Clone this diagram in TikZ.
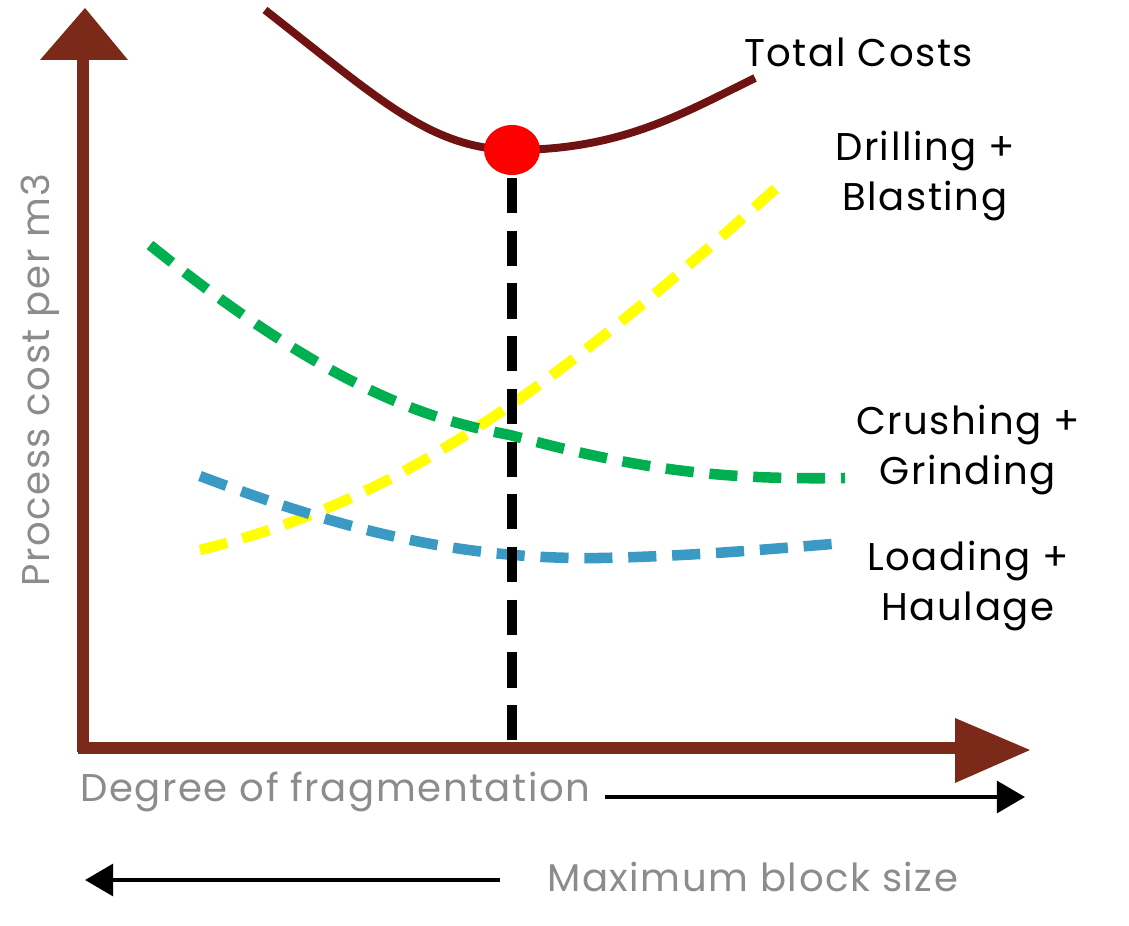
\documentclass[tikz,border=0pt]{standalone}
\usepackage{fontspec}
\setmainfont{Poppins}[LetterSpace=4]
\usetikzlibrary{arrows.meta}
\definecolor{axbrown}{HTML}{7B2A1A}
\definecolor{totred}{HTML}{6E1212}
\definecolor{lgray}{HTML}{8C8C8C}
\definecolor{cyel}{HTML}{FFFF00}
\definecolor{cgrn}{HTML}{00B050}
\definecolor{cblu}{HTML}{3A9AC4}
\begin{document}
\begin{tikzpicture}[x=0.02cm,y=-0.02cm,
  lbl/.style={font=\fontsize{22}{28}\selectfont, align=center, text=black},
  glbl/.style={font=\fontsize{22}{26}\selectfont, text=lgray},
  dsh/.style={line width=6pt, dash pattern=on 16pt off 9pt},
  thinarrow/.style={line width=2.5pt,-{Triangle[length=16pt,width=18pt]}}]
\useasboundingbox (0,0) rectangle (1129,926);
% axes
\coordinate (o) at (83,748);
\coordinate (ytop) at (83,58);
\coordinate (xend) at (958,748);
\draw[axbrown, line width=7pt] (83,752) -- (ytop);
\draw[axbrown, line width=7pt] (78,748) -- (xend);
\fill[axbrown] (40,60) -- (85,8) -- (128,60) -- cycle;
\fill[axbrown] (955,718) -- (1030,750) -- (955,783) -- cycle;
% curves
\draw[cyel, dsh] (200,550) .. controls (380,505) and (520,420) .. (785,180);
\draw[cgrn, dsh] (150,245) .. controls (330,390) and (430,420) .. (510,435) .. controls (640,470) and (720,480) .. (845,478);
\draw[cblu, dsh] (200,476) .. controls (330,525) and (450,560) .. (600,558) .. controls (700,556) and (780,548) .. (845,543);
\draw[black, line width=6pt, dash pattern=on 20pt off 10pt] (512,178) -- (512,748);
\draw[totred, line width=4.5pt] (265,10) .. controls (380,100) and (430,148) .. (512,150) .. controls (620,150) and (680,115) .. (755,78);
\fill[red] (512,150) ellipse [x radius=28, y radius=25];
% labels
\node[lbl, anchor=west] (tc) at (738,52) {Total Costs};
\node[lbl] (db) at (925,176) {Drilling +\\Blasting};
\node[lbl] (cg) at (968,450) {Crushing +\\Grinding};
\node[lbl] (lh) at (968,586) {Loading +\\Haulage};
\node[glbl, rotate=90] (yl) at (40,380) {Process cost per m3};
\node[glbl, anchor=west, inner sep=0pt] (xl) at (80,792) {Degree of fragmentation};
\node[glbl, anchor=west, inner sep=0pt] (ml) at (547,877) {Maximum block size};
\coordinate (a1) at (1025,797);
\coordinate (a2) at (85,880);
\draw[thinarrow] (605,797) -- (a1);
\draw[thinarrow] (500,880) -- (a2);
\end{tikzpicture}
\end{document}
